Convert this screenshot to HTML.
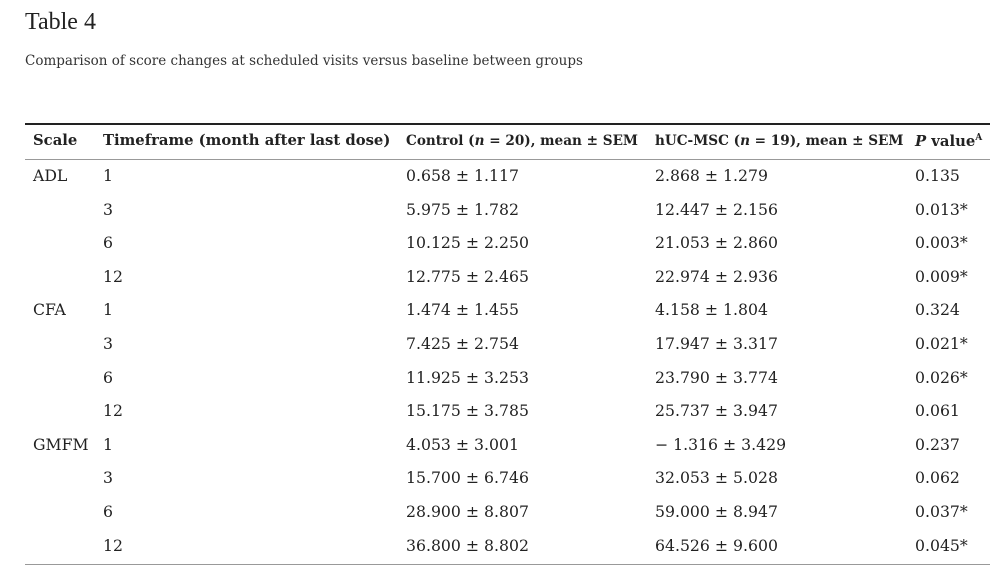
<!DOCTYPE html><html><head><style>
body{margin:0;width:1007px;height:584px;background:#fff;position:relative;font-family:"DejaVu Serif",serif;color:#222;overflow:hidden}
.a{position:absolute;white-space:nowrap;line-height:1}
.t{font-size:24px;left:25px;top:10px;font-family:"Liberation Serif",serif}
.c{font-size:13.5px;left:25px;top:55px;color:#333}
.h{font-weight:bold;font-size:14.8px;top:134px}
.r{font-size:15.7px}
.l{position:absolute;left:25px;width:965px}
</style></head><body>
<div class="a t">Table 4</div>
<div class="a c">Comparison of score changes at scheduled visits versus baseline between groups</div>
<div class="l" style="top:123px;height:2px;background:#222"></div>
<div class="l" style="top:159px;height:1px;background:#999"></div>
<div class="l" style="top:564px;height:1px;background:#999"></div>
<div class="a h" style="left:33px">Scale</div>
<div class="a h" style="left:103px">Timeframe (month after last dose)</div>
<div class="a h" style="left:406px;font-size:13.6px;top:135px">Control (<i>n</i> = 20), mean ± SEM</div>
<div class="a h" style="left:655px;font-size:13.6px;top:135px">hUC-MSC (<i>n</i> = 19), mean ± SEM</div>
<div class="a h" style="left:915px"><i>P</i> value<sup style="font-size:9px">A</sup></div>
<div id="rows"></div>
<script>
var d=[["ADL","1","0.658 ± 1.117","2.868 ± 1.279","0.135"],["","3","5.975 ± 1.782","12.447 ± 2.156","0.013*"],["","6","10.125 ± 2.250","21.053 ± 2.860","0.003*"],["","12","12.775 ± 2.465","22.974 ± 2.936","0.009*"],["CFA","1","1.474 ± 1.455","4.158 ± 1.804","0.324"],["","3","7.425 ± 2.754","17.947 ± 3.317","0.021*"],["","6","11.925 ± 3.253","23.790 ± 3.774","0.026*"],["","12","15.175 ± 3.785","25.737 ± 3.947","0.061"],["GMFM","1","4.053 ± 3.001","− 1.316 ± 3.429","0.237"],["","3","15.700 ± 6.746","32.053 ± 5.028","0.062"],["","6","28.900 ± 8.807","59.000 ± 8.947","0.037*"],["","12","36.800 ± 8.802","64.526 ± 9.600","0.045*"]];
var x=[33,103,406,655,915],h="";
d.forEach(function(r,i){var y=168+i*33.6;r.forEach(function(s,j){if(s)h+='<div class="a r" style="left:'+x[j]+'px;top:'+y+'px">'+s+'</div>';});});
document.getElementById("rows").innerHTML=h;
</script>
</body></html>
